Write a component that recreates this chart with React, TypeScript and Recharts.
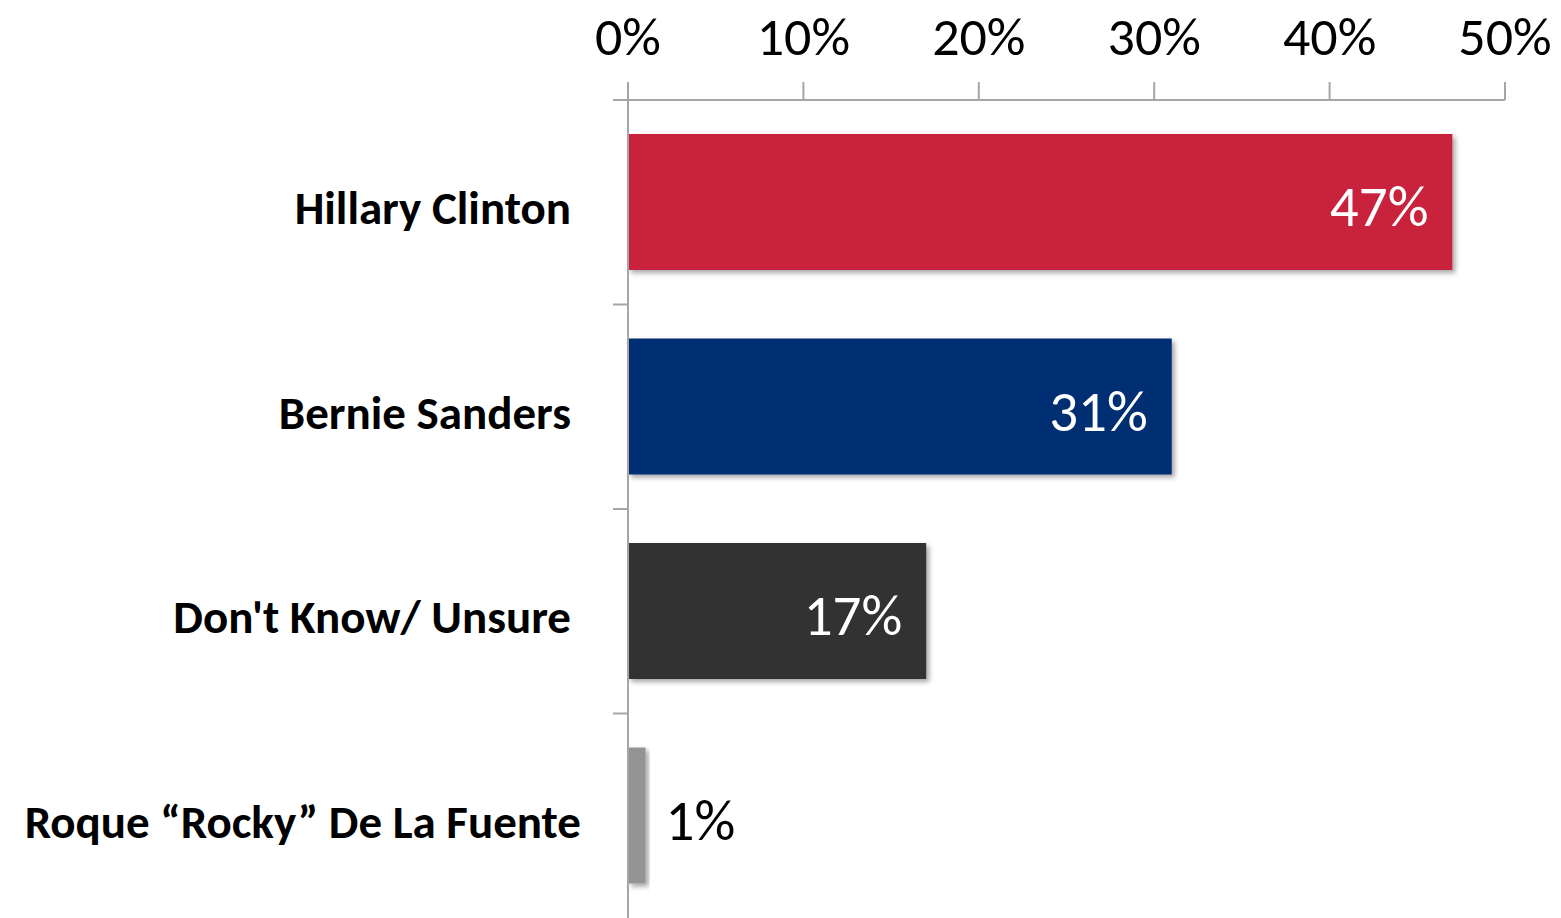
import { BarChart, Bar, XAxis, YAxis, LabelList } from 'recharts';

const candidates = [
  'Hillary Clinton',
  'Bernie Sanders',
  "Don't Know/ Unsure",
  'Roque \u201cRocky\u201d De La Fuente',
];
const shares = [47, 31, 17, 1];
const barColors = ['#C8223C', '#002D72', '#333333', '#949494'];
const percentTicks = [0, 10, 20, 30, 40, 50];

const chartData = candidates.map((name, i) => ({ name, value: shares[i] }));

const W = 1561;
const H = 918;
const TOP = 100;
const LEFT = 628;
const FONT = 'Carlito, Lato, sans-serif';
const AXIS = '#A6A6A6';
const BAND = (H - TOP) / candidates.length;

const CategoryTick = (props: any) => {
  const { y, payload, index } = props;
  // the long last label sits a little further right in the original
  const shift = index === candidates.length - 1 ? 10 : 0;
  return (
    <g>
      <line x1={LEFT - 15} x2={LEFT} y1={y - BAND / 2} y2={y - BAND / 2} stroke={AXIS} strokeWidth={2} />
      <text
        x={LEFT - 57 + shift}
        y={y + 22}
        textAnchor='end'
        fontFamily={FONT}
        fontWeight={700}
        fontSize={47}
        fill='#000'
      >
        {payload.value}
      </text>
    </g>
  );
};

const ValueLabel = (props: any) => {
  const { x, y, width, height, value } = props;
  const inside = value >= 5;
  return (
    <text
      x={inside ? x + width - 24 : x + width + 20}
      y={y + height / 2 + 24}
      textAnchor={inside ? 'end' : 'start'}
      fontFamily={FONT}
      fontSize={57}
      fill={inside ? '#fff' : '#000'}
    >
      {value}%
    </text>
  );
};

const ShadowBar = (props: any) => {
  const { x, y, width, height, index } = props;
  return (
    <rect
      x={x}
      y={y}
      width={width}
      height={height}
      fill={barColors[index]}
      filter='url(#barShadow)'
    />
  );
};

export default function App() {
  return (
    <div style={{ position: 'absolute', top: 0, left: 0, width: W, height: H, overflow: 'hidden', background: '#fff' }}>
      <svg width={0} height={0} style={{ position: 'absolute' }}>
        <defs>
          <filter id='barShadow' x='-10%' y='-10%' width='130%' height='130%'>
            <feDropShadow dx={3} dy={3} stdDeviation={2.5} floodColor='#000' floodOpacity={0.35} />
          </filter>
        </defs>
      </svg>
      <BarChart
        width={W}
        height={H}
        data={chartData}
        layout='vertical'
        margin={{ top: 0, right: W - 1505, bottom: 0, left: 0 }}
      >
        <XAxis
          type='number'
          orientation='top'
          domain={[0, 50]}
          ticks={percentTicks}
          tickFormatter={(v) => `${v}%`}
          height={TOP}
          tickSize={18}
          tickMargin={27}
          stroke={AXIS}
          strokeWidth={2}
          tick={{ fill: '#000', fontSize: 54, fontFamily: FONT }}
          interval={0}
        />
        <YAxis
          type='category'
          dataKey='name'
          width={LEFT}
          tickLine={false}
          tickSize={0}
          stroke={AXIS}
          strokeWidth={2}
          tick={<CategoryTick />}
          interval={0}
        />
        <Bar dataKey='value' barSize={136} shape={<ShadowBar />} isAnimationActive={false}>
          <LabelList dataKey='value' content={<ValueLabel />} />
        </Bar>
      </BarChart>
    </div>
  );
}
